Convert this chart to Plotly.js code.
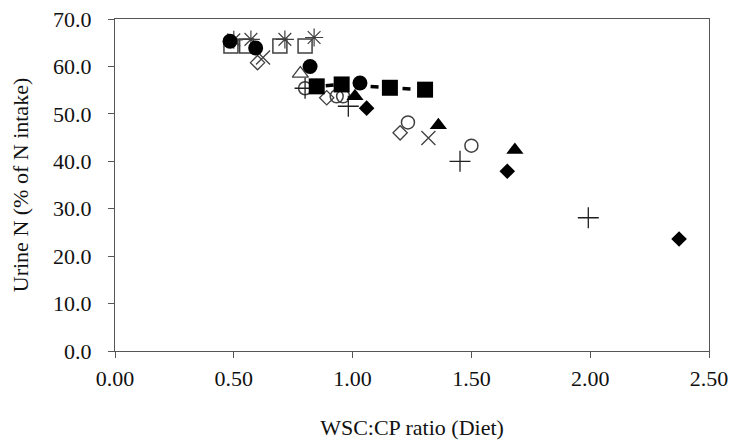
<!DOCTYPE html>
<html>
<head>
<meta charset="utf-8">
<script src="https://cdn.plot.ly/plotly-3.0.1.min.js"></script>
<style>html,body{margin:0;padding:0;background:#fff;}#chart{width:732px;height:448px;}</style>
</head>
<body>
<div id="chart"></div>
<script>
// Values (WSC:CP ratio vs urine N % of N intake)
const openSquareX = [0.488, 0.554, 0.694, 0.800];
const openSquareY = [64.3, 64.3, 64.3, 64.3];
const asteriskX = [0.500, 0.572, 0.715, 0.838];
const asteriskY = [65.6, 65.7, 65.7, 66.1];
const openDiamondX = [0.600, 0.891, 1.200];
const openDiamondY = [60.8, 53.4, 46.0];
const crossX = [0.623, 1.319];
const crossY = [61.9, 44.9];
const openTriangleX = [0.780];
const openTriangleY = [58.5];
const openCircleX = [0.800, 0.933, 0.960, 1.233, 1.500];
const openCircleY = [55.4, 53.7, 53.7, 48.2, 43.3];
const plusX = [0.800, 0.982, 1.452, 1.992];
const plusY = [55.4, 51.6, 40.0, 28.1];
const filledSquareX = [0.849, 0.954, 1.157, 1.305];
const filledSquareY = [55.8, 56.2, 55.5, 55.1];
const filledCircleX = [0.484, 0.592, 0.821, 1.031];
const filledCircleY = [65.3, 63.9, 60.0, 56.5];
const filledTriangleX = [1.010, 1.361, 1.683];
const filledTriangleY = [53.7, 47.6, 42.4];
const filledDiamondX = [1.059, 1.651, 2.374];
const filledDiamondY = [51.2, 37.9, 23.6];

const xTicks = [0, 0.5, 1.0, 1.5, 2.0, 2.5];
const yTicks = [0, 10, 20, 30, 40, 50, 60, 70];

const grey = '#404040';
function pts(x, y, symbol, size, color, lw, mode, line) {
  const t = {x: x, y: y, type: 'scatter', mode: mode || 'markers',
    marker: {symbol: symbol, size: size, color: color, line: {width: lw, color: color}},
    showlegend: false, hoverinfo: 'x+y'};
  if (line) t.line = line;
  return t;
}

const data = [
  pts(openSquareX, openSquareY, 'square-open', 14, grey, 1.5),
  pts(asteriskX, asteriskY, 'asterisk-open', 15, grey, 1.2),
  pts(openDiamondX, openDiamondY, 'diamond-open', 11, grey, 1.3),
  pts(crossX, crossY, 'x-thin-open', 14, grey, 1.3),
  pts(openTriangleX, openTriangleY, 'triangle-up-open', 14, grey, 1.3),
  pts(openCircleX, openCircleY, 'circle-open', 13, grey, 1.5),
  pts(plusX, plusY, 'cross-thin-open', 15, '#202020', 1.3),
  pts(filledSquareX, filledSquareY, 'square', 16, '#000', 0, 'lines+markers',
      {color: '#000', width: 3.5, dash: '0px,9px,8px,37px,8px,24px,8px,200px'}),
  pts(filledCircleX, filledCircleY, 'circle', 15, '#000', 0),
  pts(filledTriangleX, filledTriangleY, 'triangle-up', 15, '#000', 0),
  pts(filledDiamondX, filledDiamondY, 'diamond', 12, '#000', 0)
];

const font = {family: '"Liberation Serif", "Times New Roman", serif', size: 22, color: '#111'};

const layout = {
  width: 732, height: 448,
  margin: {l: 115, r: 23, t: 19, b: 97},
  paper_bgcolor: '#fff', plot_bgcolor: '#fff',
  font: font,
  showlegend: false,
  xaxis: {
    range: [0, 2.5], tickvals: xTicks, tickformat: '.2f',
    ticks: 'outside', ticklen: 6, tickcolor: '#555', tickwidth: 1,
    ticklabelstandoff: 1,
    showline: true, linecolor: '#555', linewidth: 1.2, mirror: true,
    showgrid: false, zeroline: false, automargin: false,
    tickfont: font,
    title: {text: 'WSC:CP ratio (Diet)', font: font, standoff: 30}
  },
  yaxis: {
    range: [0, 70], tickvals: yTicks, tickformat: '.1f',
    ticks: 'outside', ticklen: 6, tickcolor: '#555', tickwidth: 1,
    ticklabelstandoff: 12,
    showline: true, linecolor: '#555', linewidth: 1.2, mirror: true,
    showgrid: false, zeroline: false, automargin: false,
    tickfont: font,
    title: {text: 'Urine N (% of N intake)', font: font, standoff: 18}
  }
};

Plotly.newPlot('chart', data, layout, {displayModeBar: false, staticPlot: true});
</script>
</body>
</html>
